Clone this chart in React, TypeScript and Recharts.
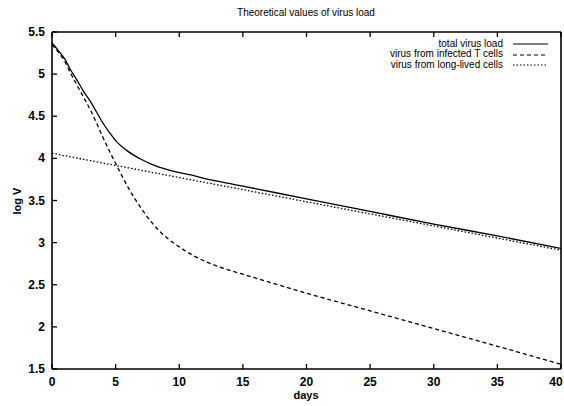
import React from 'react';
import { LineChart, Line, XAxis, YAxis, Legend } from 'recharts';

const DAYS = [0, 0.5, 1, 1.5, 2, 2.5, 3, 3.5, 4, 4.5, 5, 6, 7, 8, 9, 10, 11, 12, 13, 14, 15, 20, 25, 30, 35, 40];
const TOTAL = [5.37, 5.28, 5.18, 5.04, 4.92, 4.79, 4.68, 4.55, 4.42, 4.31, 4.21, 4.08, 3.99, 3.92, 3.87, 3.83, 3.80, 3.76, 3.73, 3.70, 3.67, 3.52, 3.37, 3.22, 3.08, 2.93];
const INFECTED = [5.35, 5.26, 5.15, 5.0, 4.86, 4.72, 4.58, 4.42, 4.25, 4.09, 3.94, 3.65, 3.41, 3.21, 3.06, 2.95, 2.855, 2.78, 2.72, 2.67, 2.625, 2.40, 2.19, 1.98, 1.77, 1.555];
const LONGLIVED = [4.06, 4.046, 4.031, 4.017, 4.003, 3.988, 3.974, 3.959, 3.945, 3.931, 3.916, 3.888, 3.859, 3.83, 3.801, 3.773, 3.744, 3.715, 3.686, 3.658, 3.629, 3.485, 3.341, 3.198, 3.054, 2.91];

const X_TICKS = [0, 5, 10, 15, 20, 25, 30, 35, 40];
const X_TICK_LABELS = ['0', '5', '10', '15', '20', '25', '30', '35', '40'];
const Y_TICKS = [1.5, 2, 2.5, 3, 3.5, 4, 4.5, 5, 5.5];
const Y_TICK_LABELS = ['1.5', '2', '2.5', '3', '3.5', '4', '4.5', '5', '5.5'];

const TITLE = 'Theoretical values of virus load';
const X_LABEL = 'days';
const Y_LABEL = 'log V';

const SERIES = [
  { key: 'total', name: 'total virus load', dash: undefined as string | undefined },
  { key: 'infected', name: 'virus from infected T cells', dash: '4 3' },
  { key: 'longlived', name: 'virus from long-lived cells', dash: '1.5 2' },
];

const data = DAYS.map((d, i) => ({ day: d, total: TOTAL[i], infected: INFECTED[i], longlived: LONGLIVED[i] }));

const FONT = '"Liberation Sans", Arial, Helvetica, sans-serif';
const TL = 5;

// Custom ticks: labels only; tick lines are drawn by recharts with negative tickSize (inward)
const BottomTick = (p: any) => {
  const idx = X_TICKS.indexOf(p.payload.value);
  return (
    <text x={p.x} y={p.y + TL + 17} textAnchor="middle" fontSize={12} fontWeight="bold" fontFamily={FONT} fill="#000">
      {idx >= 0 ? X_TICK_LABELS[idx] : p.payload.value}
    </text>
  );
};
const LeftTick = (p: any) => {
  const idx = Y_TICKS.indexOf(p.payload.value);
  return (
    <text x={p.x - TL - 7} y={p.y + 4} textAnchor="end" fontSize={12} fontWeight="bold" fontFamily={FONT} fill="#000">
      {idx >= 0 ? Y_TICK_LABELS[idx] : p.payload.value}
    </text>
  );
};
const NoTick = () => <g />;

const LegendContent = () => (
  <div style={{ fontFamily: FONT, fontSize: 10, color: '#000' }}>
    {SERIES.map((s) => (
      <div key={s.key} style={{ display: 'flex', justifyContent: 'flex-end', alignItems: 'center', height: 10.8, lineHeight: '10.8px' }}>
        <span style={{ whiteSpace: 'nowrap' }}>{s.name}</span>
        <svg width={35} height={6} style={{ marginLeft: 10, display: 'block' }}>
          <line x1={0} y1={3} x2={35} y2={3} stroke="#000" strokeWidth={1.2} strokeDasharray={s.dash} />
        </svg>
      </div>
    ))}
  </div>
);

const axisStyle = { stroke: '#000', strokeWidth: 1.6 };
const tickStyle = { stroke: '#000', strokeWidth: 1.3 };

export default function App() {
  return (
    <div style={{ position: 'absolute', left: 0, top: 0, width: 564, height: 406, background: '#fff' }}>
      <LineChart width={564} height={406} data={data} margin={{ top: 22, right: 0, bottom: 0, left: 0 }}>
        <XAxis
          dataKey="day"
          type="number"
          domain={[0, 40]}
          ticks={X_TICKS}
          height={37}
          tickSize={-TL}
          tickMargin={0}
          tick={<BottomTick />}
          axisLine={axisStyle}
          tickLine={tickStyle}
          label={{
            content: () => (
              <text x={306} y={399} textAnchor="middle" fontSize={11} fontWeight="bold" fontFamily={FONT} fill="#000">
                {X_LABEL}
              </text>
            ),
          }}
        />
        <XAxis
          xAxisId="top"
          orientation="top"
          dataKey="day"
          type="number"
          domain={[0, 40]}
          ticks={X_TICKS}
          height={10}
          tickSize={-TL}
          tickMargin={0}
          tick={<NoTick />}
          axisLine={axisStyle}
          tickLine={tickStyle}
          label={{
            content: () => (
              <text x={306} y={16} textAnchor="middle" fontSize={10} fontFamily={FONT} fill="#000">
                {TITLE}
              </text>
            ),
          }}
        />
        <YAxis
          type="number"
          domain={[1.5, 5.5]}
          ticks={Y_TICKS}
          width={52}
          tickSize={-TL}
          tickMargin={0}
          tick={<LeftTick />}
          axisLine={axisStyle}
          tickLine={tickStyle}
          interval={0}
          label={{
            content: () => (
              <text x={21} y={201} transform="rotate(-90 21 201)" textAnchor="middle" fontSize={11} fontWeight="bold" fontFamily={FONT} fill="#000">
                {Y_LABEL}
              </text>
            ),
          }}
        />
        <YAxis
          yAxisId="right"
          orientation="right"
          type="number"
          domain={[1.5, 5.5]}
          ticks={Y_TICKS}
          width={3}
          tickSize={-TL}
          tickMargin={0}
          tick={<NoTick />}
          axisLine={axisStyle}
          tickLine={tickStyle}
          interval={0}
        />
        <Legend
          layout="vertical"
          align="center"
          verticalAlign="middle"
          content={<LegendContent />}
          wrapperStyle={{ position: 'absolute', left: 0, top: 38.5, width: 548 }}
        />
        {SERIES.map((s) => (
          <Line
            key={s.key}
            dataKey={s.key}
            name={s.name}
            type="monotone"
            stroke="#000"
            strokeWidth={1.3}
            strokeDasharray={s.dash}
            dot={false}
            activeDot={false}
            isAnimationActive={false}
          />
        ))}
      </LineChart>
    </div>
  );
}
